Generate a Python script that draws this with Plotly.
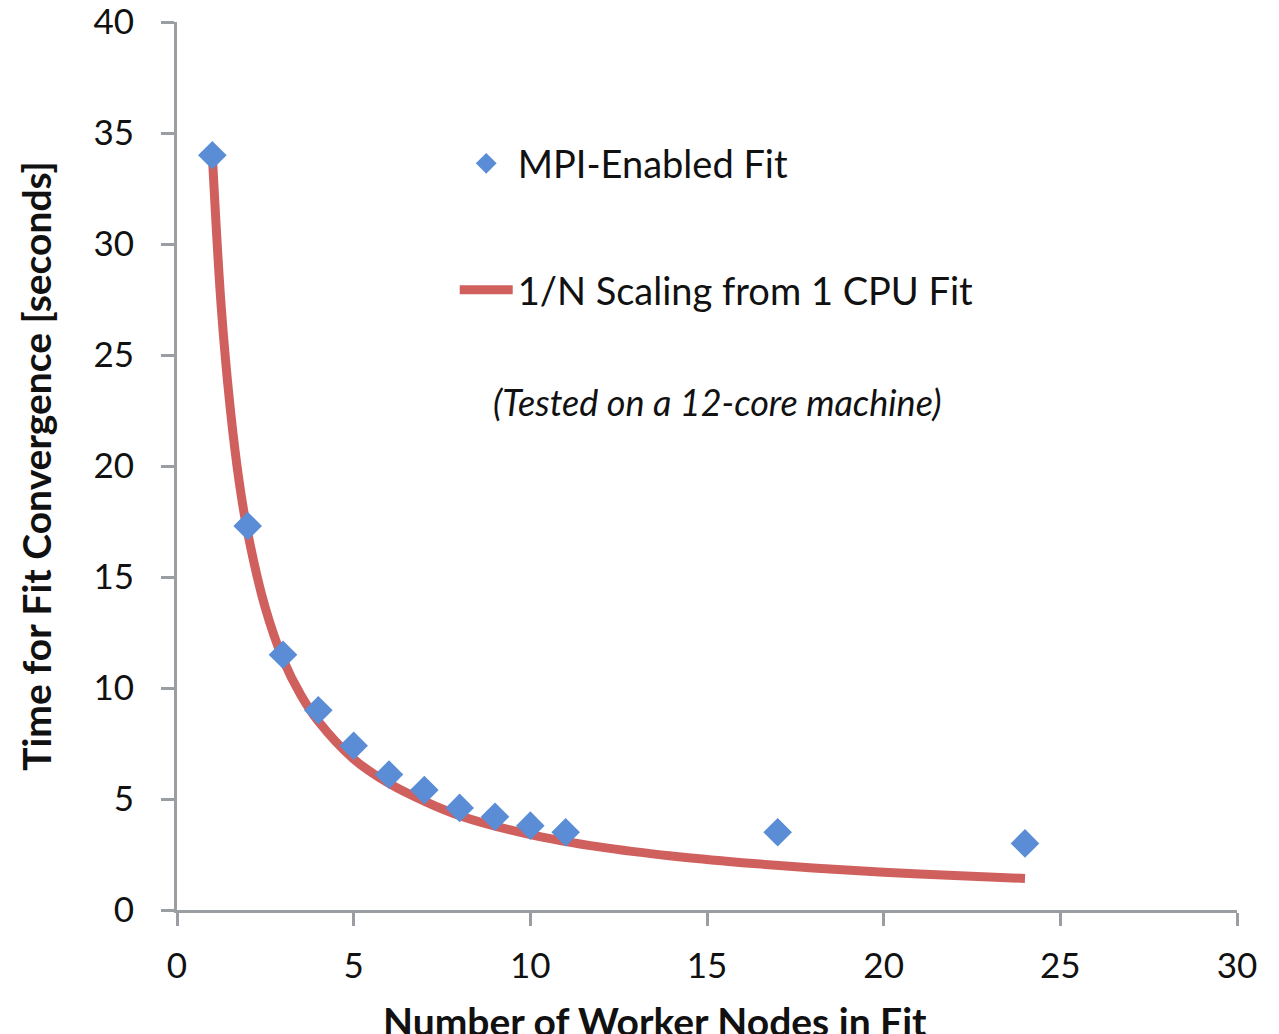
import plotly.graph_objects as go

# Measured data (MPI-enabled fit)
nodes = [1, 2, 3, 4, 5, 6, 7, 8, 9, 10, 11, 17, 24]
time_sec = [34.0, 17.3, 11.5, 9.0, 7.4, 6.1, 5.4, 4.6, 4.2, 3.8, 3.5, 3.5, 3.0]

# 1/N scaling curve
curve_nodes = [1, 1.25, 1.5, 1.75, 2, 2.5, 3, 3.5, 4, 5, 6, 7, 8, 10, 12, 14, 16, 18, 20, 22, 24]
curve_time = [34.0, 27.2, 22.7, 19.4, 17.0, 13.6, 11.3, 9.7, 8.5, 6.8, 5.7, 4.9, 4.25,
              3.4, 2.83, 2.43, 2.13, 1.89, 1.7, 1.55, 1.42]

x_ticks = [0, 5, 10, 15, 20, 25, 30]
y_ticks = [0, 5, 10, 15, 20, 25, 30, 35, 40]

FONT = "Lato"
AXIS_COLOR = "#9a9ea3"

fig = go.Figure()
fig.add_trace(go.Scatter(
    x=curve_nodes, y=curve_time, mode="lines",
    line=dict(color="#D0605E", width=9, shape="spline"),
    name="1/N Scaling from 1 CPU Fit", legendrank=2, legendgroup="b",
))
fig.add_trace(go.Scatter(
    x=nodes, y=time_sec, mode="markers",
    marker=dict(symbol="diamond", size=22, color="#5B8DD6",
                line=dict(width=0)),
    name="MPI-Enabled Fit", legendrank=1, legendgroup="a",
))

fig.add_annotation(
    x=0.51, y=0.572, xref="paper", yref="paper",
    text="<i>(Tested on a 12-core machine)</i>", showarrow=False,
    font=dict(family=FONT, size=36, color="#111111"),
)

# x-axis title (offset left of the plot centre, as in the original)
fig.add_annotation(
    x=0.451, y=0, xref="paper", yref="paper", yshift=-86,
    xanchor="center", yanchor="top",
    text="<b>Number of Worker Nodes in Fit</b>", showarrow=False,
    font=dict(family=FONT, size=39, color="#111111"),
)

fig.update_layout(
    width=1279, height=1034,
    margin=dict(l=169, r=50, t=14, b=132, autoexpand=False),
    paper_bgcolor="white", plot_bgcolor="white",
    font=dict(family=FONT, color="#111111"),
    showlegend=True,
    legend=dict(
        x=0.262, y=0.876, xanchor="left", yanchor="top",
        font=dict(family=FONT, size=38, color="#111111"),
        tracegroupgap=74, bgcolor="rgba(0,0,0,0)", itemwidth=53,
    ),
    xaxis=dict(
        range=[0, 30], tickvals=x_ticks, showgrid=False, zeroline=False,
        showline=True, linecolor=AXIS_COLOR, linewidth=3,
        ticks="outside", ticklen=13, tickwidth=3, tickcolor=AXIS_COLOR,
        tickfont=dict(family=FONT, size=35, color="#111111"),
        ticklabelstandoff=10, automargin=False, ticklabeloverflow="allow",
    ),
    yaxis=dict(
        range=[0, 40], tickvals=y_ticks, showgrid=False, zeroline=False,
        showline=True, linecolor=AXIS_COLOR, linewidth=3,
        ticks="outside", ticklen=13, tickwidth=3, tickcolor=AXIS_COLOR,
        tickfont=dict(family=FONT, size=35, color="#111111"),
        ticklabelstandoff=20, automargin=False, ticklabeloverflow="allow",
        title=dict(text="<b>Time for Fit Convergence [seconds]</b>",
                   font=dict(family=FONT, size=39, color="#111111"), standoff=30),
    ),
)

fig.write_html("out.html")
